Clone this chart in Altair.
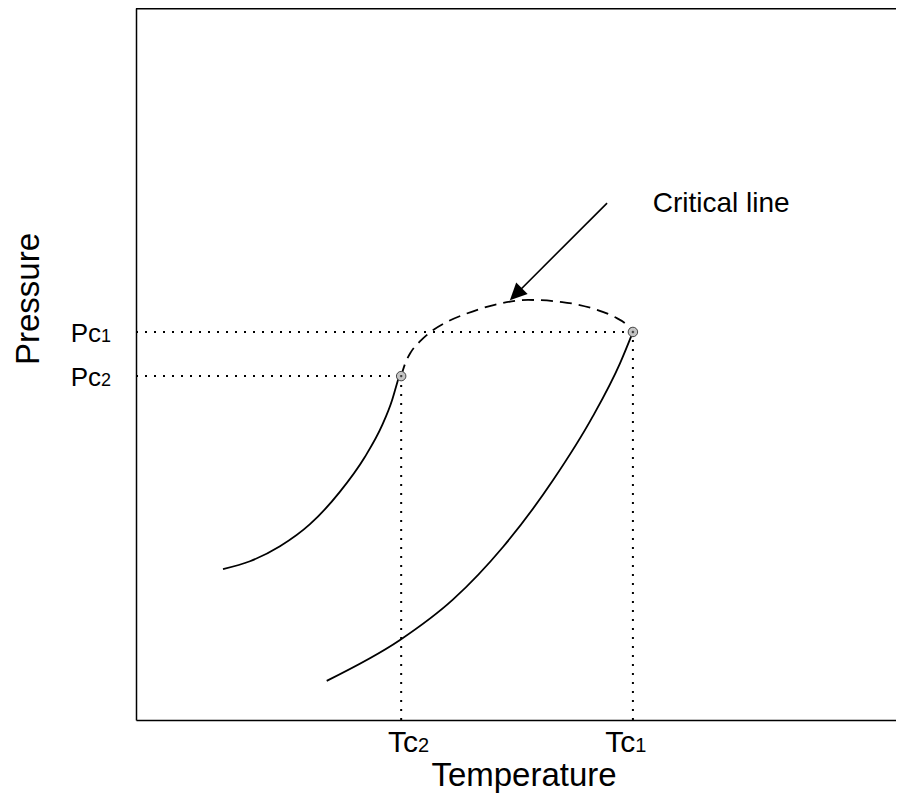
import altair as alt
import pandas as pd

# ---- data (arbitrary units: temperature 0-102, pressure 0-100) ----
left_T = [11.45, 15.0, 18.95, 22.9, 26.8, 30.1, 32.4, 33.7, 34.3, 34.6]
left_P = [21.2, 22.3, 24.4, 27.5, 32.0, 36.9, 41.4, 44.9, 47.1, 48.2]

right_T = [25.1, 34.7, 41.7, 48.3, 54.9, 60.1, 63.7, 65.4]
right_P = [5.5, 11.2, 16.9, 24.3, 33.7, 42.6, 50.1, 54.5]

crit_T = [34.9, 35.4, 36.2, 37.4, 38.9, 40.9, 43.3, 47.2, 51.6, 56.1, 60.4, 63.0, 64.6, 65.4]
crit_P = [48.3, 50.0, 51.7, 53.2, 54.6, 55.9, 57.0, 58.3, 59.0, 58.7, 57.7, 56.6, 55.5, 54.5]

cp_T = [34.9, 65.4]          # Tc2, Tc1
cp_P = [48.3, 54.5]          # Pc2, Pc1
cp_sub = ["2", "1"]
tc_label_T = [37.1, 65.7]    # right edge of the "Tc" part of each label

arrow_T = [62.0, 50.0]       # tail, head
arrow_P = [72.6, 59.8]
note_T = [68.0]
note_P = [71.3]
note_text = ["Critical line"]

# ---- tables ----
left_df = pd.DataFrame({"T": left_T, "P": left_P})
right_df = pd.DataFrame({"T": right_T, "P": right_P})
crit_df = pd.DataFrame({"T": crit_T, "P": crit_P})
cp_df = pd.DataFrame({"T": cp_T, "P": cp_P, "sub": cp_sub, "LT": tc_label_T,
                      "T0": [0, 0], "P0": [0, 0]})
arrow_df = pd.DataFrame({"T": [arrow_T[0]], "P": [arrow_P[0]],
                         "T2": [arrow_T[1]], "P2": [arrow_P[1]]})
head_df = pd.DataFrame({"T": [arrow_T[1]], "P": [arrow_P[1]]})
note_df = pd.DataFrame({"T": note_T, "P": note_P, "text": note_text})
one_df = pd.DataFrame({"a": [0]})

W, H = 775, 712
FONT = "Liberation Sans"

xaxis = alt.Axis(title="Temperature", labels=False, ticks=False, grid=False,
                 domainColor="black", domainWidth=1.5,
                 titleFont=FONT, titleFontSize=33, titleFontWeight="normal",
                 titleColor="black", titleX=387.5, titleY=65, titleBaseline="alphabetic")
yaxis = alt.Axis(title="Pressure", labels=False, ticks=False, grid=False,
                 domainColor="black", domainWidth=1.5,
                 titleFont=FONT, titleFontSize=33, titleFontWeight="normal",
                 titleColor="black", titleX=-98, titleY=290.5, titleAngle=-90,
                 titleBaseline="alphabetic", titleAlign="center")

xs = alt.Scale(domain=[0, 102], nice=False, zero=False)
ys = alt.Scale(domain=[0, 100], nice=False, zero=False)


def X(f):
    return alt.X(f, type="quantitative", scale=xs, axis=xaxis)


def Y(f):
    return alt.Y(f, type="quantitative", scale=ys, axis=yaxis)


left_line = alt.Chart(left_df).mark_line(color="black", strokeWidth=1.8, interpolate="monotone").encode(x=X("T"), y=Y("P"))
right_line = alt.Chart(right_df).mark_line(color="black", strokeWidth=1.8, interpolate="monotone").encode(x=X("T"), y=Y("P"))
crit_line = alt.Chart(crit_df).mark_line(color="black", strokeWidth=1.8, strokeDash=[12, 7],
                                         interpolate="monotone").encode(x=X("T"), y=Y("P"))

h_dots = alt.Chart(cp_df).mark_rule(color="black", strokeWidth=2, strokeDash=[2, 7]).encode(
    x=X("T0"), x2="T", y=Y("P"))
v_dots = alt.Chart(cp_df).mark_rule(color="black", strokeWidth=2, strokeDash=[2, 7]).encode(
    x=X("T"), y=Y("P0"), y2="P")

cp_circ = alt.Chart(cp_df).mark_point(shape="circle", filled=True, size=90, fill="#c4c4c4",
                                      stroke="#444444", strokeWidth=1, opacity=1).encode(x=X("T"), y=Y("P"))
cp_dot = alt.Chart(cp_df).mark_point(shape="cross", filled=True, size=6, color="#222222",
                                     opacity=1).encode(x=X("T"), y=Y("P"))

arrow_line = alt.Chart(arrow_df).mark_rule(color="black", strokeWidth=1.6).encode(
    x=X("T"), y=Y("P"), x2="T2", y2="P2")
arrow_head = alt.Chart(head_df).mark_point(shape="M0,-1L0.95,1L-0.95,1Z", filled=True, size=289,
                                           angle=225, color="black", opacity=1).encode(x=X("T"), y=Y("P"))

note = alt.Chart(note_df).mark_text(font=FONT, fontSize=28, align="left", baseline="alphabetic",
                                    color="black").encode(x=X("T"), y=Y("P"), text="text:N")

tc_main = alt.Chart(cp_df).mark_text(font=FONT, fontSize=30, align="right", baseline="alphabetic",
                                     color="black", text="Tc").encode(x=X("LT"), y=alt.value(744))
tc_sub = alt.Chart(cp_df).mark_text(font=FONT, fontSize=20, align="left", baseline="alphabetic",
                                    color="black").encode(x=X("LT"), y=alt.value(744), text="sub:N")

pc_main = alt.Chart(cp_df).mark_text(font=FONT, fontSize=26, align="right", baseline="alphabetic",
                                     color="black", text="Pc", dy=10).encode(x=alt.value(-35), y=Y("P"))
pc_sub = alt.Chart(cp_df).mark_text(font=FONT, fontSize=18, align="left", baseline="alphabetic",
                                    color="black", dy=10).encode(x=alt.value(-35), y=Y("P"), text="sub:N")

top_border = alt.Chart(one_df).mark_rule(color="black", strokeWidth=1.5).encode(
    x=alt.value(0), x2=alt.value(W), y=alt.value(0.75))

chart = alt.layer(
    h_dots, v_dots, left_line, right_line, crit_line, arrow_line, arrow_head,
    cp_circ, cp_dot, note, tc_main, tc_sub, pc_main, pc_sub, top_border
).properties(
    width=W, height=H,
    autosize=alt.AutoSizeParams(type="none"),
    padding={"left": 128, "top": 0, "right": -15, "bottom": 73},
    background="white",
).configure_view(strokeWidth=0, stroke="transparent")

chart.save("out.html", embed_options={"renderer": "svg", "actions": False})
